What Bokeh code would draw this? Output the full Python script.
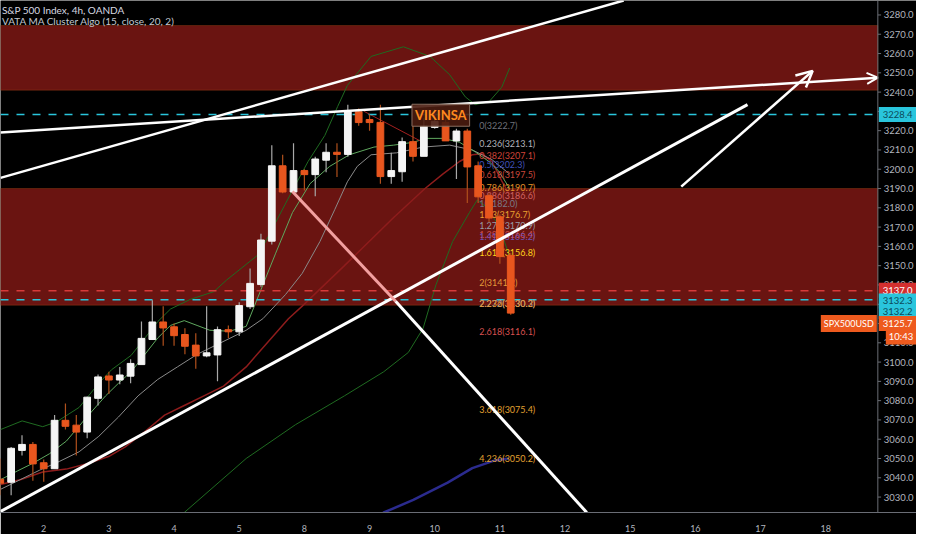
from bokeh.plotting import figure
from bokeh.models import (BoxAnnotation, Span, Label, Arrow, OpenHead,
                          FixedTicker, Range1d)
from bokeh.core.properties import value
from bokeh.embed import file_html
from bokeh.resources import INLINE

# velas de 4h: indice de barra y OHLC
barras = list(range(-4, 44))
apertura = [3039, 3038, 3054.5, 3057, 3047.5, 3045, 3069.5, 3067, 3064, 3081.5,
            3092.5, 3091, 3093, 3099, 3112, 3120.5, 3118, 3114, 3108.5, 3103.5,
            3104, 3116.5, 3116, 3129, 3140.5, 3163, 3201.5, 3188.5, 3199, 3197.5,
            3205, 3208.5, 3208, 3229.5, 3225.5, 3224, 3196.5, 3199, 3214, 3207,
            3222, 3224, 3215, 3219.5, 3201.5, 3186, 3175, 3155]
maximo = [3050, 3056, 3062, 3058.5, 3049.5, 3072.5, 3078.5, 3072.5, 3082, 3093.5,
          3095, 3097.5, 3101.5, 3121, 3132, 3129, 3120, 3117.5, 3115, 3129,
          3118.5, 3119, 3131, 3148.5, 3166.5, 3212.5, 3207.5, 3213.5, 3200, 3206.5,
          3213.5, 3213.5, 3233.5, 3231.5, 3228.5, 3233.5, 3208.5, 3216.5, 3222.5, 3226.5,
          3231, 3226, 3221, 3221, 3204, 3187.5, 3176.5, 3156.5]
minimo = [3031, 3031, 3051.5, 3038.5, 3038, 3045, 3065, 3051.5, 3060.5, 3077.5,
          3083.5, 3088.5, 3089, 3099, 3112, 3108.5, 3108.5, 3104, 3096.5, 3102.5,
          3090, 3112.5, 3113.5, 3127.5, 3139, 3161, 3187.5, 3188.5, 3189, 3186,
          3198.5, 3196, 3206.5, 3222.5, 3220, 3192.5, 3192.5, 3193.5, 3204, 3207,
          3221, 3215, 3195, 3182.5, 3182.5, 3172.5, 3151, 3124.5]
cierre = [3037.5, 3055, 3057, 3047.5, 3045, 3069.5, 3067, 3064, 3081.5, 3092,
          3091, 3093, 3099, 3112, 3120.5, 3118, 3114, 3108.5, 3103.5, 3104.5,
          3116.5, 3116, 3129, 3140.5, 3163, 3201.5, 3188.5, 3199, 3197.5, 3205,
          3208.5, 3208, 3229.5, 3224.5, 3224.5, 3196.5, 3199, 3214, 3207, 3222,
          3224.5, 3215, 3219.5, 3201.5, 3186, 3175, 3155, 3125.7]

# eje de tiempo y de precios
dias_barra = [0, 6, 12, 18, 24, 30, 36, 42, 48, 54, 60, 66, 72]
dias_texto = ["2", "3", "4", "5", "8", "9", "10", "11", "12", "15", "16", "17", "18"]
precios_eje = [3030, 3040, 3050, 3060, 3070, 3080, 3090, 3100, 3110, 3120, 3130, 3140,
               3150, 3160, 3170, 3180, 3190, 3200, 3210, 3220, 3230, 3240, 3250, 3260,
               3270, 3280]
eje_x = 76.8  # donde empieza la escala de precios

# indicador VATA MA Cluster
banda_sup_x = [-3.98, -1.99, -0.09, 1.18, 3.26, 5.07, 6.24, 8.05, 9.32, 10.5, 11.67,
               13.48, 15.66, 16.83, 19.82, 21.36, 22.9, 24.34, 25.88, 27.06, 27.96,
               30.14, 33.12, 35.57, 37.38, 38.82, 39.73, 41.0, 42.17, 42.9]
banda_sup_y = [3065, 3069.5, 3066.5, 3069, 3076.5, 3089, 3096, 3103.5, 3112.5, 3121,
               3127.5, 3132.5, 3136.5, 3142.5, 3156, 3172.5, 3189, 3204, 3217.5,
               3232.5, 3243.5, 3258.5, 3263.5, 3258.5, 3249, 3237.5, 3233.5, 3235,
               3242.5, 3252.5]
banda_inf_x = [9.6, 12.94, 18.64, 23.17, 27.69, 31.31, 33.57, 34.93, 36.11, 37.65,
               39.19, 39.91, 40.63, 41.9, 42.81]
banda_inf_y = [3007.5, 3022, 3050, 3067.5, 3082.5, 3095, 3105, 3117.5, 3140, 3162.5,
               3177.5, 3184, 3181, 3171, 3156]
ma_rapida_x = [-3.98, -2.44, -1.0, 0.54, 2.08, 3.89, 5.7, 6.88, 8.05, 9.32, 10.5,
               11.67, 12.94, 14.12, 15.29, 17.1, 18.64, 20.0, 21.36, 22.9, 24.52,
               26.33, 28.14, 30.41, 32.22, 34.03, 35.2, 36.74, 38.28, 39.73, 41.0,
               41.9, 42.9]
ma_rapida_y = [3039, 3043.5, 3047.5, 3052.5, 3059, 3071, 3082.5, 3089, 3095, 3104,
               3112.5, 3119, 3121.5, 3119, 3116.5, 3116, 3118.5, 3137.5, 3156.5,
               3177.5, 3192.5, 3201.5, 3207.5, 3211.5, 3212.5, 3214, 3216, 3216,
               3214, 3209, 3204, 3199, 3190]
base_x = [-3.98, -2.17, -0.36, 1.45, 3.26, 5.07, 6.88, 8.69, 10.5, 12.31, 14.12,
          15.93, 18.64, 20.18, 22.26, 23.8, 25.43, 26.79, 27.96, 28.87, 30.14,
          32.49, 34.93, 37.38, 39.46, 41.27, 42.9]
base_y = [3034, 3039, 3044, 3048.5, 3053.5, 3061.5, 3071.5, 3082.5, 3091, 3097.5,
          3104, 3109, 3116.5, 3122.5, 3135, 3146, 3162.5, 3179, 3193.5, 3201.5,
          3207.5, 3208.5, 3211.5, 3212.5, 3210, 3205, 3197.5]
ma_lenta_x = [-3.98, -2.17, -0.09, 2.08, 4.16, 5.97, 7.51, 9.32, 11.13, 12.94, 14.75,
              16.56, 18.64, 22.53, 23.8, 27.69, 32.22, 35.11, 36.74, 38.28, 39.46,
              40.36, 41.27, 42.17, 42.81]
ma_lenta_y = [3036.5, 3039, 3043, 3044.5, 3047.5, 3051, 3056, 3064, 3072.5, 3077.5,
              3082.5, 3087.5, 3097.5, 3122.5, 3129, 3150, 3175, 3190, 3197.5, 3204,
              3207.5, 3208, 3204, 3194, 3187.5]
azul_x = [28.6, 31.31, 34.03, 37.19, 39.46, 41.54, 42.81]
azul_y = [3007.5, 3022, 3028.5, 3037.5, 3045, 3049, 3050]

# zonas y niveles horizontales
zona_alta = (3241, 3274.5)
zona_baja = (3129.5, 3190)
nivel_cian = [3228.4, 3132.3]
nivel_rojo = 3137.0

# lineas dibujadas a mano
tendencia_x = [-3.98, 64.8]
tendencia_y = [3022.5, 3233.5]
canal_x = [-3.98, 53.4]
canal_y = [3195.5, 3287.5]
guia_x = [-3.98, 76.8]
guia_y = [3219, 3247.5]
flecha_x = [58.7, 70.8]
flecha_y = [3191, 3251]
diag_rosa_x = [22.9, 32.4]
diag_rosa_y = [3188.5, 3131.5]
diag_blanca_x = [32.4, 50.0]
diag_blanca_y = [3131.5, 3022]
fib_traza_x = [29.5, 34.9]
fib_traza_y = [3230, 3214]

# extension de Fibonacci
fib_ratios = ["0", "0.236", "0.382", "0.5", "0.618", "0.786", "0.886", "1", "1.13",
              "1.272", "1.382", "1.414", "1.618", "2", "2.272", "2.236", "2.618",
              "3.618", "4.236"]
fib_precios = [3222.7, 3213.1, 3207.1, 3202.3, 3197.5, 3190.7, 3186.6, 3182.0, 3176.7,
               3170.9, 3166.4, 3165.2, 3156.8, 3141.2, 3130.3, 3130.2, 3116.1,
               3075.4, 3050.2]
fib_colores = ["#6f717a", "#b0b2ba", "#cf4338", "#4150b8", "#c8463a", "#e0902a",
               "#d06262", "#7a7a85", "#e8a030", "#9a9ca5", "#d05050", "#7050b0",
               "#ffd21a", "#e39a3a", "#9a9ca5", "#e39a3a", "#d85050", "#e0a030",
               "#e0a030"]

# cajas de precio sobre la escala
cajas_txt = ["3228.4", "3137.0", "3132.3", "3132.2", "3125.7"]
cajas_y = [3228.4, 3137.2, 3131.7, 3126.2, 3120.0]
cajas_fondo = ["#29c5dc", "#d32f2f", "#29c5dc", "#29c5dc", "#ee5a1e"]
cajas_color = ["#0c4a5a", "#ffffff", "#0c4a5a", "#0c4a5a", "#ffffff"]

p = figure(width=916, height=534, output_backend="svg", toolbar_location=None,
           x_range=Range1d(-3.98, 80.36), y_range=Range1d(3022, 3287.5),
           y_axis_location=None, min_border_left=0, min_border_top=0,
           min_border_right=0, min_border_bottom=20)
p.background_fill_color = "#000000"
p.border_fill_color = "#000000"
p.outline_line_color = None
p.grid.visible = False

p.add_layout(BoxAnnotation(bottom=zona_alta[0], top=zona_alta[1], right=eje_x,
                           fill_color="#6a1411", fill_alpha=1, line_color="#c0561b",
                           line_width=1, level="underlay"))
p.add_layout(BoxAnnotation(bottom=zona_baja[0], top=zona_baja[1], right=eje_x,
                           fill_color="#6a1411", fill_alpha=1, line_color="#c0561b",
                           line_width=1, level="underlay"))

# indicador
p.line(ma_lenta_x, ma_lenta_y, line_color="#8e1c1c", line_width=1.5)
p.line(banda_sup_x, banda_sup_y, line_color="#1f6b21", line_width=1)
p.line(banda_inf_x, banda_inf_y, line_color="#1f6b21", line_width=1)
p.line(base_x, base_y, line_color="#8a8a8a", line_width=1)
p.line(ma_rapida_x, ma_rapida_y, line_color="#5fa85f", line_width=1)
p.line(azul_x, azul_y, line_color="#2b2b8e", line_width=2.5)
p.line(fib_traza_x, fib_traza_y, line_color="#a52020", line_width=1)

for lv in nivel_cian:
    p.segment(x0=[-3.98], y0=[lv], x1=[eje_x], y1=[lv], line_color="#29c5dc",
              line_width=1.5, line_dash="8 8")
p.segment(x0=[-3.98], y0=[nivel_rojo], x1=[eje_x], y1=[nivel_rojo], line_color="#d63a3a",
          line_width=1.5, line_dash="8 8")

# etiquetas fibonacci (las velas las tapan en parte)
fib_textos = [r + "(" + format(v, ".1f") + ")" for r, v in zip(fib_ratios, fib_precios)]
p.text(x=[40.1] * len(fib_textos), y=fib_precios, text=fib_textos, text_color=fib_colores,
       text_font=value("Lato"), text_font_size="9px", text_baseline="middle")

# velas
sube = [c >= o for o, c in zip(apertura, cierre)]
cuerpo_top = [max(o, c) + 0.3 for o, c in zip(apertura, cierre)]
cuerpo_bot = [min(o, c) - 0.3 for o, c in zip(apertura, cierre)]
color_cuerpo = ["#f5f5f5" if s else "#e8561e" for s in sube]
color_mecha = ["#a8a8a8" if s else "#b0501c" for s in sube]
p.segment(barras, maximo, barras, minimo, line_color=color_mecha, line_width=1.2)
p.vbar(x=barras, width=0.62, top=cuerpo_top, bottom=cuerpo_bot,
       fill_color=color_cuerpo, line_color=color_cuerpo)

# lineas blancas
p.line(tendencia_x, tendencia_y, line_color="white", line_width=3)
p.line(canal_x, canal_y, line_color="white", line_width=2.5)
p.line(diag_rosa_x, diag_rosa_y, line_color="#f2a0a0", line_width=3)
p.line(diag_blanca_x, diag_blanca_y, line_color="white", line_width=3)
p.add_layout(Arrow(end=OpenHead(size=11, line_color="white", line_width=2),
                   x_start=guia_x[0], y_start=guia_y[0], x_end=guia_x[1], y_end=guia_y[1],
                   line_color="white", line_width=2.5))
p.add_layout(Arrow(end=OpenHead(size=16, line_color="white", line_width=2.5),
                   x_start=flecha_x[0], y_start=flecha_y[0], x_end=flecha_x[1], y_end=flecha_y[1],
                   line_color="white", line_width=2.5))

p.add_layout(Label(x=36.56, y=3228, text="VIKINSA", text_align="center", text_baseline="middle",
                   text_color="#ff8a1f", text_font="Lato", text_font_style="bold",
                   text_font_size="13px", background_fill_color="#4a1c10",
                   background_fill_alpha=0.9, border_line_color="#8a6e60", padding=3))

# leyenda superior
p.add_layout(Label(x=-3.85, y=3282.5, text="S&P 500 Index, 4h, OANDA", text_baseline="middle",
                   text_color="#d8dae2", text_font="Lato", text_font_size="10px"))
p.add_layout(Label(x=-3.85, y=3277, text="VATA MA Cluster Algo (15, close, 20, 2)",
                   text_baseline="middle", text_color="#c4c6ce", text_font="Lato",
                   text_font_size="10px"))

# eje de tiempo
p.xaxis.ticker = FixedTicker(ticks=dias_barra)
p.xaxis.major_label_overrides = {b: t for b, t in zip(dias_barra, dias_texto)}
p.xaxis.axis_line_color = "#6a6d75"
p.xaxis.major_tick_line_color = None
p.xaxis.minor_tick_line_color = None
p.xaxis.major_label_text_color = "#b2b5be"
p.xaxis.major_label_text_font = "Lato"
p.xaxis.major_label_text_font_size = "9px"
p.xaxis.major_label_standoff = 6

# escala de precios a la derecha
p.add_layout(Span(location=eje_x, dimension="height", line_color="#6a6d75", line_width=1))
p.segment(x0=[eje_x] * len(precios_eje), y0=precios_eje, x1=[eje_x + 0.3] * len(precios_eje),
          y1=precios_eje, line_color="#6a6d75", line_width=1)
p.text(x=[eje_x] * len(precios_eje), y=precios_eje,
       text=[format(v, ".1f") for v in precios_eje], x_offset=6,
       text_color="#b2b5be", text_font=value("Lato"), text_font_size="9.5px",
       text_baseline="middle")

for txt, yy, fondo, col in zip(cajas_txt, cajas_y, cajas_fondo, cajas_color):
    p.add_layout(Label(x=eje_x, y=yy, text=txt, x_offset=1, text_baseline="middle",
                       text_color=col, text_font="Lato", text_font_size="9.5px",
                       background_fill_color=fondo, padding=4))
p.add_layout(Label(x=eje_x, y=3120.0, text="SPX500USD", x_offset=-1, text_align="right",
                   text_baseline="middle", text_color="#ffffff", text_font="Lato",
                   text_font_size="9px", background_fill_color="#ee5a1e", padding=3))
p.add_layout(Label(x=eje_x, y=3113.5, text="10:43", x_offset=8, text_baseline="middle",
                   text_color="#ffffff", text_font="Lato", text_font_size="9.5px",
                   background_fill_color="#ee5a1e", padding=3))

open("out.html", "w").write(file_html(p, INLINE))
